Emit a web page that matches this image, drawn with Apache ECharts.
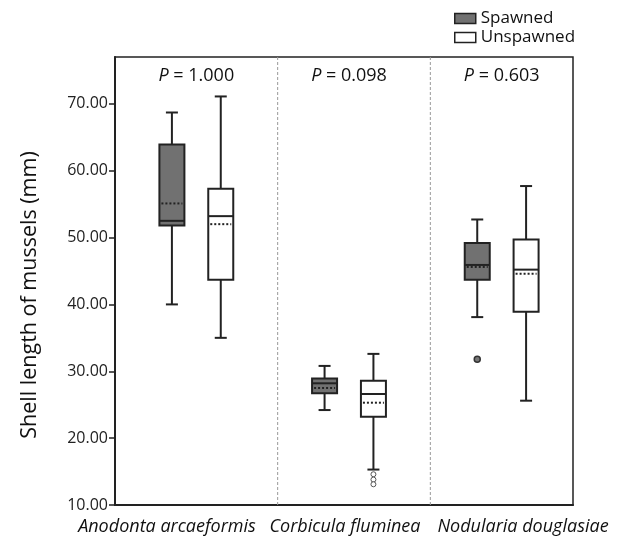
<!DOCTYPE html>
<html>
<head>
<meta charset="utf-8">
<script src="https://cdn.jsdelivr.net/npm/echarts@6/dist/echarts.min.js"></script>
<style>
  html, body { margin: 0; padding: 0; background: #fff; }
  #chart { width: 628px; height: 547px; }
</style>
</head>
<body>
<div id="chart"></div>
<script>
// data
const categories = ['Anodonta arcaeformis', 'Corbicula fluminea', 'Nodularia douglasiae']
const pValues = ['1.000', '0.098', '0.603']
// [lower whisker, Q1, median, Q3, upper whisker, mean]
const spawnedStats = [
  [40.0, 51.8, 52.5, 63.9, 68.7, 55.1],
  [24.2, 26.7, 28.2, 28.9, 30.8, 27.5],
  [38.1, 43.7, 45.9, 49.2, 52.7, 45.6],
]
const unspawnedStats = [
  [35.0, 43.7, 53.2, 57.3, 71.1, 52.0],
  [15.3, 23.2, 26.6, 28.6, 32.6, 25.3],
  [25.6, 38.9, 45.2, 49.7, 57.7, 44.6],
]
const spawnedOutliers = [[], [], [31.8]]
const unspawnedOutliers = [[], [14.6, 13.8, 13.1], []]
const yTicks = [10, 20, 30, 40, 50, 60, 70]

const INK = '#222'
const FONT = '"Open Sans", "Noto Sans", sans-serif'

const boxRenderer = (stats, outliers, fill, side, outlierStyle) => (params, api) => {
  const i = params.dataIndex
  const [lo, q1, med, q3, hi, mean] = stats[i]
  const band = api.size([1, 0])[0]
  const cx = api.coord([i, 0])[0] + side * band * 0.16 + 5
  const y = (v) => api.coord([i, v])[1]
  const half = 12.5
  const cap = 6
  const line = { stroke: INK, lineWidth: 2 }
  const children = [
    { type: 'line', shape: { x1: cx, y1: y(lo), x2: cx, y2: y(q1) }, style: line },
    { type: 'line', shape: { x1: cx, y1: y(q3), x2: cx, y2: y(hi) }, style: line },
    { type: 'line', shape: { x1: cx - cap, y1: y(lo), x2: cx + cap, y2: y(lo) }, style: line },
    { type: 'line', shape: { x1: cx - cap, y1: y(hi), x2: cx + cap, y2: y(hi) }, style: line },
    {
      type: 'rect',
      shape: { x: cx - half, y: y(q3), width: half * 2, height: y(q1) - y(q3) },
      style: { fill, stroke: INK, lineWidth: 2 },
    },
    { type: 'line', shape: { x1: cx - half, y1: y(med), x2: cx + half, y2: y(med) }, style: line },
    {
      type: 'line',
      shape: { x1: cx - half + 2, y1: y(mean), x2: cx + half - 2, y2: y(mean) },
      style: { stroke: INK, lineWidth: 2, lineDash: [2, 2] },
    },
  ]
  outliers[i].forEach((v) => {
    children.push({ type: 'circle', shape: { cx, cy: y(v), r: outlierStyle.r }, style: outlierStyle.style })
  })
  return { type: 'group', children }
}

const pRenderer = (params, api) => {
  const i = params.dataIndex
  const band = api.size([1, 0])[0]
  const cx = api.coord([i, 0])[0] + 5
  const sys = params.coordSys
  const children = [
    {
      type: 'text',
      style: {
        x: cx,
        y: api.coord([i, 74.2])[1],
        text: '{i|P} = ' + pValues[i],
        align: 'center',
        verticalAlign: 'middle',
        font: '18px ' + FONT,
        fill: '#111',
        rich: { i: { fontStyle: 'italic', fontSize: 18, fontFamily: FONT, fill: '#111' } },
      },
    },
  ]
  if (i < categories.length - 1) {
    const dx = api.coord([i, 0])[0] + band / 2 + 10
    children.push({
      type: 'line',
      shape: { x1: dx, y1: sys.y, x2: dx, y2: sys.y + sys.height },
      style: { stroke: '#999', lineWidth: 1, lineDash: [3, 2] },
    })
  }
  return { type: 'group', children }
}

const chart = echarts.init(document.getElementById('chart'))

chart.setOption({
  animation: false,
  textStyle: { fontFamily: FONT },
  legend: {
    orient: 'vertical',
    left: 449,
    top: 5,
    itemWidth: 21,
    itemHeight: 10,
    itemGap: 2,
    icon: 'rect',
    textStyle: { fontSize: 17, color: '#111', fontFamily: FONT },
    data: [
      { name: 'Spawned', itemStyle: { color: '#717171', borderColor: INK, borderWidth: 1.5 } },
      { name: 'Unspawned', itemStyle: { color: '#fff', borderColor: INK, borderWidth: 1.5 } },
    ],
  },
  grid: [
    { left: 115, right: 55, top: 57, bottom: 42, show: true, borderColor: INK, borderWidth: 1.5 },
    { left: 78, right: 16, top: 57, bottom: 42, show: false },
  ],
  xAxis: [
    {
      type: 'category',
      data: categories,
      axisLine: { lineStyle: { color: INK, width: 2 } },
      axisTick: { show: false },
      axisLabel: { show: false },
    },
    {
      type: 'category',
      gridIndex: 1,
      data: categories,
      axisLine: { show: false },
      axisTick: { show: false },
      axisLabel: { interval: 0, fontStyle: 'italic', fontSize: 18, color: '#111', margin: 13, fontFamily: FONT },
    },
  ],
  yAxis: [
    {
      type: 'value',
      min: 10,
      max: 77,
      interval: 10,
      splitLine: { show: false },
      axisLine: { show: true, lineStyle: { color: INK, width: 2 } },
      axisTick: { show: true, length: 6, lineStyle: { color: INK, width: 1.5 }, customValues: yTicks },
      axisLabel: {
        fontSize: 16,
        color: INK,
        margin: 7,
        customValues: yTicks,
        formatter: (v) => v.toFixed(2),
      },
    },
    { type: 'value', gridIndex: 1, show: false },
  ],
  graphic: [
    {
      type: 'text',
      x: 30,
      y: 295,
      rotation: Math.PI / 2,
      style: {
        text: 'Shell length of mussels (mm)',
        font: '21.5px ' + FONT,
        fill: '#111',
        align: 'center',
        verticalAlign: 'middle',
      },
    },
  ],
  series: [
    {
      name: 'pvalues',
      type: 'custom',
      data: pValues.map((p, i) => [i, 74.2]),
      encode: { x: 0, y: 1 },
      renderItem: pRenderer,
      silent: true,
      z: 1,
    },
    {
      name: 'Spawned',
      type: 'custom',
      itemStyle: { color: '#717171' },
      data: spawnedStats.map((s, i) => [i, ...s]),
      encode: { x: 0, y: [1, 2, 3, 4, 5] },
      renderItem: boxRenderer(spawnedStats, spawnedOutliers, '#717171', -1, {
        r: 3,
        style: { fill: '#777', stroke: '#333', lineWidth: 1.5 },
      }),
      z: 2,
    },
    {
      name: 'Unspawned',
      type: 'custom',
      itemStyle: { color: '#fff' },
      data: unspawnedStats.map((s, i) => [i, ...s]),
      encode: { x: 0, y: [1, 2, 3, 4, 5] },
      renderItem: boxRenderer(unspawnedStats, unspawnedOutliers, '#fff', 1, {
        r: 2.5,
        style: { fill: '#fff', stroke: '#555', lineWidth: 1 },
      }),
      z: 2,
    },
  ],
})
</script>
</body>
</html>
